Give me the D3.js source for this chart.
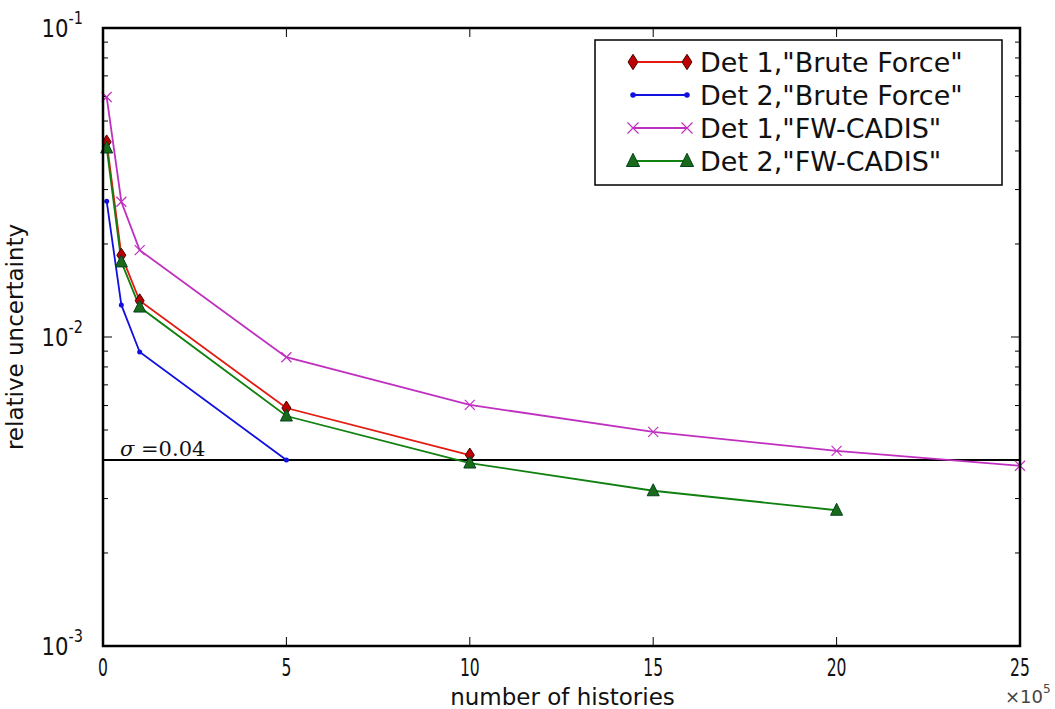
<!DOCTYPE html>
<html>
<head>
<meta charset="utf-8">
<script src="https://cdn.jsdelivr.net/npm/d3@7"></script>
<style>
  body { margin: 0; background: #fff; }
  svg { font-family: "DejaVu Sans", sans-serif; }
</style>
</head>
<body>
<div id="chart"></div>
<script>
// histories, in units of 1e5
const xDet1BF = [0.1, 0.5, 1, 5, 10];
const yDet1BF = [0.0428, 0.0184, 0.0131, 0.00589, 0.00415];
const xDet2BF = [0.1, 0.5, 1, 5];
const yDet2BF = [0.0275, 0.0127, 0.00894, 0.0040];
const xDet1FW = [0.1, 0.5, 1, 5, 10, 15, 20, 25];
const yDet1FW = [0.0598, 0.0274, 0.0191, 0.0086, 0.00603, 0.00493, 0.00428, 0.00383];
const xDet2FW = [0.1, 0.5, 1, 5, 10, 15, 20];
const yDet2FW = [0.0409, 0.0175, 0.0125, 0.00555, 0.00391, 0.00318, 0.00275];

const xTicks = [0, 5, 10, 15, 20, 25];
const yTickExps = [-3, -2, -1];
const sigmaLevel = 0.004;

const seriesNames = ['Det 1,"Brute Force"', 'Det 2,"Brute Force"', 'Det 1,"FW-CADIS"', 'Det 2,"FW-CADIS"'];

const series = [
  {name: seriesNames[0], xs: xDet1BF, ys: yDet1BF, color: "#e31a10", marker: "diamond", fill: "#c00000"},
  {name: seriesNames[1], xs: xDet2BF, ys: yDet2BF, color: "#1010e0", marker: "dot", fill: "#1010e0"},
  {name: seriesNames[2], xs: xDet1FW, ys: yDet1FW, color: "#c030c0", marker: "x", fill: "none"},
  {name: seriesNames[3], xs: xDet2FW, ys: yDet2FW, color: "#108010", marker: "triangle", fill: "#1a6a1a"}
];

const W = 1055, H = 709;
const margin = {top: 28, right: 35, bottom: 63, left: 103};
const width = W - margin.left - margin.right;
const height = H - margin.top - margin.bottom;

const svg = d3.select("#chart").append("svg")
  .attr("width", W).attr("height", H);
const g = svg.append("g")
  .attr("transform", "translate(" + margin.left + "," + margin.top + ")");

const xScale = d3.scaleLinear().domain([0, 25]).range([0, width]);
const yScale = d3.scaleLog().domain([1e-3, 1e-1]).range([height, 0]);

g.append("clipPath").attr("id", "clip")
  .append("rect").attr("width", width).attr("height", height);

// minor / major log ticks, inward on both sides
const minorVals = [];
for (let e = -3; e < -1; e++) {
  for (let m = 2; m < 10; m++) minorVals.push(m * Math.pow(10, e));
}
const tickG = g.append("g").attr("stroke", "#000").attr("stroke-width", 1);
minorVals.forEach(v => {
  const y = yScale(v);
  tickG.append("line").attr("x1", 0).attr("x2", 5).attr("y1", y).attr("y2", y);
  tickG.append("line").attr("x1", width).attr("x2", width - 5).attr("y1", y).attr("y2", y);
});
yTickExps.forEach(e => {
  const y = yScale(Math.pow(10, e));
  tickG.append("line").attr("x1", 0).attr("x2", 9).attr("y1", y).attr("y2", y);
  tickG.append("line").attr("x1", width).attr("x2", width - 9).attr("y1", y).attr("y2", y);
});
xTicks.forEach(t => {
  const x = xScale(t);
  tickG.append("line").attr("x1", x).attr("x2", x).attr("y1", height).attr("y2", height - 9);
  tickG.append("line").attr("x1", x).attr("x2", x).attr("y1", 0).attr("y2", 9);
});

// narrow glyphs like the reference
function squeeze(x, y, k) {
  return "translate(" + x + "," + y + ") scale(" + k + ",1)";
}

// y tick labels 10^e
yTickExps.forEach(e => {
  const t = g.append("text")
    .attr("transform", squeeze(-20, yScale(Math.pow(10, e)) + 9, 0.85))
    .attr("text-anchor", "end").attr("font-size", 25).attr("fill", "#111");
  t.append("tspan").text("10");
  t.append("tspan").attr("font-size", 17).attr("dy", -13).text(String(e));
});

// x tick labels
g.append("g").selectAll("text").data(xTicks).join("text")
  .attr("transform", d => squeeze(xScale(d), height + 30, 0.65))
  .attr("text-anchor", "middle").attr("font-size", 24).attr("fill", "#111")
  .text(d => d);

// axis titles
g.append("text")
  .attr("transform", "translate(" + (-80) + "," + (height / 2) + ") rotate(-90)")
  .attr("text-anchor", "middle").attr("font-size", 23).attr("fill", "#111")
  .text("relative uncertainty");
g.append("text")
  .attr("x", width / 2 + 1).attr("y", height + 59)
  .attr("text-anchor", "middle").attr("font-size", 23).attr("fill", "#111")
  .text("number of histories");
const mult = g.append("text")
  .attr("x", width - 15).attr("y", height + 57)
  .attr("font-size", 18).attr("fill", "#444");
mult.append("tspan").text("×10");
mult.append("tspan").attr("font-size", 12).attr("dy", -10).text("5");

// sigma line
g.append("line")
  .attr("x1", 0).attr("x2", width)
  .attr("y1", yScale(sigmaLevel)).attr("y2", yScale(sigmaLevel))
  .attr("stroke", "#000").attr("stroke-width", 2);
const sig = g.append("text")
  .attr("x", 17).attr("y", yScale(sigmaLevel) - 4)
  .attr("font-family", "'DejaVu Serif', 'Liberation Serif', serif")
  .attr("font-size", 21).attr("fill", "#111");
sig.append("tspan").attr("font-style", "italic").text("σ");
sig.append("tspan").text(" =0.04");

// markers
function drawMarker(sel, s, k) {
  k = k || 1;
  if (s.marker === "diamond") {
    sel.append("path")
      .attr("d", `M0,${-7*k}L${4.5*k},0L0,${7*k}L${-4.5*k},0Z`)
      .attr("fill", s.fill).attr("stroke", "#400").attr("stroke-width", 1);
  } else if (s.marker === "dot") {
    sel.append("circle").attr("r", 2.5 * k).attr("fill", s.fill);
  } else if (s.marker === "x") {
    sel.append("path")
      .attr("d", `M${-5*k},${-5*k}L${5*k},${5*k}M${-5*k},${5*k}L${5*k},${-5*k}`)
      .attr("stroke", s.color).attr("stroke-width", 1.2).attr("fill", "none");
  } else if (s.marker === "triangle") {
    sel.append("path")
      .attr("d", `M0,${-7*k}L${6*k},${5*k}L${-6*k},${5*k}Z`)
      .attr("fill", s.fill).attr("stroke", "#042").attr("stroke-width", 1);
  }
}

const dataG = g.append("g").attr("clip-path", "url(#clip)");
const line = d3.line().x(d => xScale(d[0])).y(d => yScale(d[1]));
series.forEach(s => {
  const pts = s.xs.map((x, i) => [x, s.ys[i]]);
  dataG.append("path").datum(pts)
    .attr("d", line).attr("fill", "none")
    .attr("stroke", s.color).attr("stroke-width", 1.8);
});
const markG = g.append("g");
series.forEach(s => {
  s.xs.forEach((x, i) => {
    const mg = markG.append("g")
      .attr("transform", "translate(" + xScale(x) + "," + yScale(s.ys[i]) + ")");
    drawMarker(mg, s);
  });
});

// frame
g.append("rect").attr("width", width).attr("height", height)
  .attr("fill", "none").attr("stroke", "#000").attr("stroke-width", 2.5);

// legend
const leg = svg.append("g").attr("transform", "translate(595,40)");
leg.append("rect").attr("width", 407).attr("height", 145)
  .attr("fill", "#fff").attr("stroke", "#000").attr("stroke-width", 1.5);
series.forEach((s, i) => {
  const y = 22 + i * 33;
  leg.append("line").attr("x1", 38).attr("x2", 92).attr("y1", y).attr("y2", y)
    .attr("stroke", s.color).attr("stroke-width", 1.8);
  [38, 92].forEach(x => {
    const mg = leg.append("g").attr("transform", "translate(" + x + "," + y + ")");
    drawMarker(mg, s, 1.1);
  });
  leg.append("text").attr("x", 105).attr("y", y + 10)
    .attr("font-size", 27).attr("fill", "#111").text(s.name);
});
</script>
</body>
</html>
